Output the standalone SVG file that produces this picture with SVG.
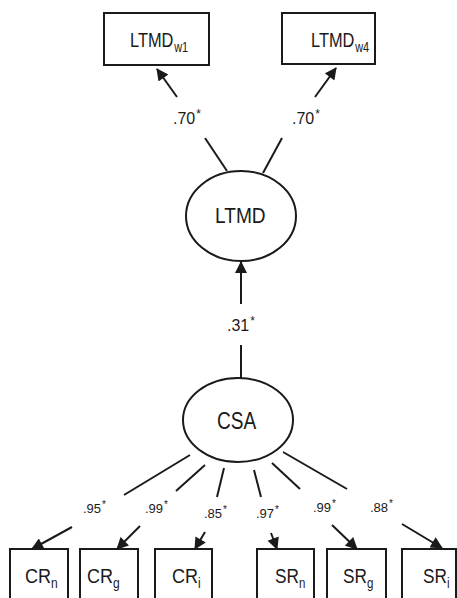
<svg xmlns="http://www.w3.org/2000/svg" width="457" height="598" viewBox="0 0 457 598">
<style>
.box{fill:#fff;stroke:#1a1a1a;stroke-width:2}
.ell{fill:#fff;stroke:#1a1a1a;stroke-width:2}
.ln{stroke:#1a1a1a;stroke-width:2;fill:none}
.arr{marker-end:url(#ah)}
text{font-family:"Liberation Sans",Arial,sans-serif;fill:#1a1a1a}
.lbl{font-size:21px}
.sub{font-size:14px}
.big{font-size:16px}
.sm{font-size:13px}
.star{font-size:12px}
.stars{font-size:10px}
</style>
<defs>
<marker id="ah" viewBox="0 0 12 12" refX="11" refY="6" markerWidth="13" markerHeight="12" markerUnits="userSpaceOnUse" orient="auto">
<path d="M0,0 L12,6 L0,12 z" fill="#1a1a1a"/>
</marker>
</defs>
<rect width="457" height="598" fill="#fff"/>
<g id="connectors">
<line class="ln" x1="205" y1="138" x2="227" y2="171"/>
<line class="ln arr" x1="177" y1="97" x2="157" y2="69"/>
<line class="ln" x1="282" y1="138" x2="263" y2="173"/>
<line class="ln arr" x1="315" y1="97" x2="336" y2="68"/>
<line class="ln arr" x1="241" y1="304" x2="241" y2="262"/>
<line class="ln" x1="241" y1="345" x2="241" y2="378"/>
<line class="ln" x1="190" y1="455" x2="124" y2="495"/>
<line class="ln arr" x1="72" y1="527" x2="32" y2="549"/>
<line class="ln" x1="205" y1="465" x2="176" y2="491"/>
<line class="ln arr" x1="140" y1="526" x2="117" y2="549"/>
<line class="ln" x1="224" y1="468" x2="217" y2="497"/>
<line class="ln arr" x1="205" y1="532" x2="195" y2="549"/>
<line class="ln" x1="254" y1="470" x2="261" y2="497"/>
<line class="ln arr" x1="271" y1="533" x2="277" y2="549"/>
<line class="ln" x1="272" y1="463" x2="300" y2="489"/>
<line class="ln arr" x1="332" y1="525" x2="357" y2="549"/>
<line class="ln" x1="283" y1="452" x2="347" y2="489"/>
<line class="ln arr" x1="402" y1="524" x2="442" y2="548"/>
<text class="big" x="173" y="124">.70<tspan class="star" dx="1" dy="-6">*</tspan></text>
<text class="big" x="292" y="124">.70<tspan class="star" dx="1" dy="-6">*</tspan></text>
<text class="big" x="227" y="331">.31<tspan class="star" dx="1" dy="-6">*</tspan></text>
<text class="sm" x="83" y="513">.95<tspan class="stars" dx="1" dy="-5">*</tspan></text>
<text class="sm" x="145" y="513">.99<tspan class="stars" dx="1" dy="-5">*</tspan></text>
<text class="sm" x="204" y="518">.85<tspan class="stars" dx="1" dy="-5">*</tspan></text>
<text class="sm" x="256" y="518">.97<tspan class="stars" dx="1" dy="-5">*</tspan></text>
<text class="sm" x="313" y="512">.99<tspan class="stars" dx="1" dy="-5">*</tspan></text>
<text class="sm" x="370" y="512">.88<tspan class="stars" dx="1" dy="-5">*</tspan></text>
</g>
<g id="LTMDw1">
<rect class="box" x="104" y="13" width="105" height="52"/>
<text class="lbl" transform="translate(130,47) scale(0.78,1)">LTMD<tspan class="sub" dx="1" dy="5">w1</tspan></text>
</g>
<g id="LTMDw4">
<rect class="box" x="282" y="13" width="93" height="51"/>
<text class="lbl" transform="translate(311,47) scale(0.78,1)">LTMD<tspan class="sub" dx="1" dy="5">w4</tspan></text>
</g>
<g id="LTMD">
<ellipse class="ell" cx="241" cy="216" rx="55" ry="45"/>
<text transform="translate(215,223) scale(0.87,1)" style="font-size:22px">LTMD</text>
</g>
<g id="CSA">
<ellipse class="ell" cx="238" cy="420" rx="55" ry="42"/>
<text transform="translate(217,429) scale(0.83,1)" style="font-size:23px">CSA</text>
</g>
<g id="CRn">
<rect class="box" x="10" y="549" width="58" height="60"/>
<text class="lbl" transform="translate(25,583) scale(0.86,1)">CR<tspan class="sub" dy="5">n</tspan></text>
</g>
<g id="CRg">
<rect class="box" x="80" y="549" width="58" height="60"/>
<text class="lbl" transform="translate(87,583) scale(0.86,1)">CR<tspan class="sub" dy="5">g</tspan></text>
</g>
<g id="CRi">
<rect class="box" x="155" y="549" width="57" height="60"/>
<text class="lbl" transform="translate(172,583) scale(0.86,1)">CR<tspan class="sub" dy="5">i</tspan></text>
</g>
<g id="SRn">
<rect class="box" x="257" y="549" width="57" height="60"/>
<text class="lbl" transform="translate(275,583) scale(0.82,1)">SR<tspan class="sub" dy="5">n</tspan></text>
</g>
<g id="SRg">
<rect class="box" x="327" y="549" width="59" height="60"/>
<text class="lbl" transform="translate(343,583) scale(0.82,1)">SR<tspan class="sub" dy="5">g</tspan></text>
</g>
<g id="SRi">
<rect class="box" x="402" y="549" width="54" height="60"/>
<text class="lbl" transform="translate(423,583) scale(0.82,1)">SR<tspan class="sub" dy="5">i</tspan></text>
</g>
</svg>
